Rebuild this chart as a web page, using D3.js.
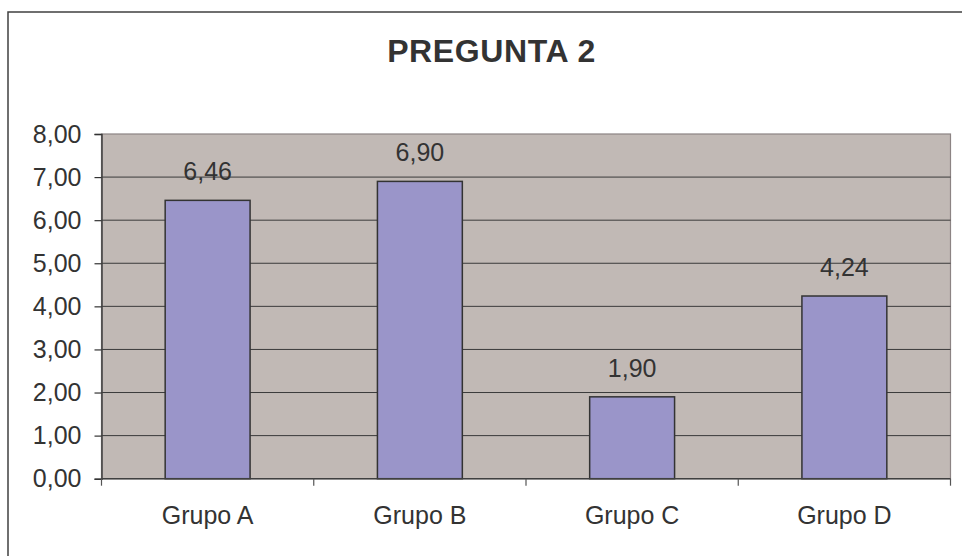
<!DOCTYPE html>
<html>
<head>
<meta charset="utf-8">
<script src="https://cdn.jsdelivr.net/npm/d3@7"></script>
<style>
  html, body { margin: 0; padding: 0; background: #ffffff; }
  svg { display: block; }
  text { font-family: "Liberation Sans", Arial, Helvetica, sans-serif; fill: #333333; }
</style>
</head>
<body>
<script>
const title = "PREGUNTA 2";
const categories = ["Grupo A", "Grupo B", "Grupo C", "Grupo D"];
const values = [6.46, 6.90, 1.90, 4.24];
const yTicks = [0, 1, 2, 3, 4, 5, 6, 7, 8];

const W = 962, H = 556;
const plot = { left: 101.5, right: 950.5, top: 134, bottom: 478.7 };
const fmt = v => d3.format(".2f")(v).replace(".", ",");

const svg = d3.select("body").append("svg").attr("width", W).attr("height", H);

// outer chart border (extends past the picture on right/bottom)
svg.append("rect").attr("x", 8).attr("y", 12).attr("width", 1000).attr("height", 600)
  .attr("fill", "#ffffff").attr("stroke", "#404040").attr("stroke-width", 1.5);

svg.append("text").attr("x", 491.5).attr("y", 61.5).attr("text-anchor", "middle")
  .attr("font-size", 32).attr("letter-spacing", 0.6).attr("font-weight", "bold").text(title);

const x = d3.scaleBand().domain(categories).range([plot.left, plot.right]).paddingInner(0).paddingOuter(0);
const y = d3.scaleLinear().domain([0, 8]).range([plot.bottom, plot.top]);

// plot area background
svg.append("rect").attr("x", plot.left).attr("y", plot.top)
  .attr("width", plot.right - plot.left).attr("height", plot.bottom - plot.top)
  .attr("fill", "#c1b9b5").attr("stroke", "#8c8484").attr("stroke-width", 1.2);

// gridlines
svg.append("g").selectAll("line").data(yTicks.filter(t => t > 0 && t < 8)).join("line")
  .attr("x1", plot.left).attr("x2", plot.right)
  .attr("y1", d => y(d)).attr("y2", d => y(d))
  .attr("stroke", "#3a3a3a").attr("stroke-width", 1);

// bars
const bw = x.bandwidth() * 0.4;
svg.append("g").selectAll("rect").data(values).join("rect")
  .attr("x", (d, i) => x(categories[i]) + x.bandwidth() / 2 - bw / 2)
  .attr("y", d => y(d))
  .attr("width", bw)
  .attr("height", d => y(0) - y(d))
  .attr("fill", "#9a95c9").attr("stroke", "#333333").attr("stroke-width", 1.5);

// value labels
svg.append("g").selectAll("text").data(values).join("text")
  .attr("x", (d, i) => x(categories[i]) + x.bandwidth() / 2)
  .attr("y", d => y(d) - 20)
  .attr("text-anchor", "middle").attr("font-size", 25)
  .text(d => fmt(d));

// y axis
const yAxis = svg.append("g").attr("transform", `translate(${plot.left},0)`)
  .call(d3.axisLeft(y).tickValues(yTicks).tickSize(7).tickPadding(13).tickFormat(fmt));
yAxis.select(".domain").attr("stroke", "#404040").attr("stroke-width", 1.5);
yAxis.selectAll(".tick line").attr("stroke", "#333333").attr("stroke-width", 1.2);
yAxis.selectAll(".tick text").attr("font-size", 25).attr("fill", "#333333")
  .attr("font-family", "'Liberation Sans', Arial, sans-serif");

// x axis
const boundaries = categories.map(c => x(c)).concat([plot.right]);
const xg = svg.append("g");
xg.append("line").attr("x1", plot.left).attr("x2", plot.right)
  .attr("y1", plot.bottom).attr("y2", plot.bottom)
  .attr("stroke", "#404040").attr("stroke-width", 1.5);
xg.selectAll("line.tk").data(boundaries).join("line").attr("class", "tk")
  .attr("x1", d => d).attr("x2", d => d)
  .attr("y1", plot.bottom).attr("y2", plot.bottom + 7)
  .attr("stroke", "#555555").attr("stroke-width", 1.2);
xg.selectAll("text").data(categories).join("text")
  .attr("x", d => x(d) + x.bandwidth() / 2)
  .attr("y", 524)
  .attr("text-anchor", "middle").attr("font-size", 25)
  .text(d => d);
</script>
</body>
</html>
